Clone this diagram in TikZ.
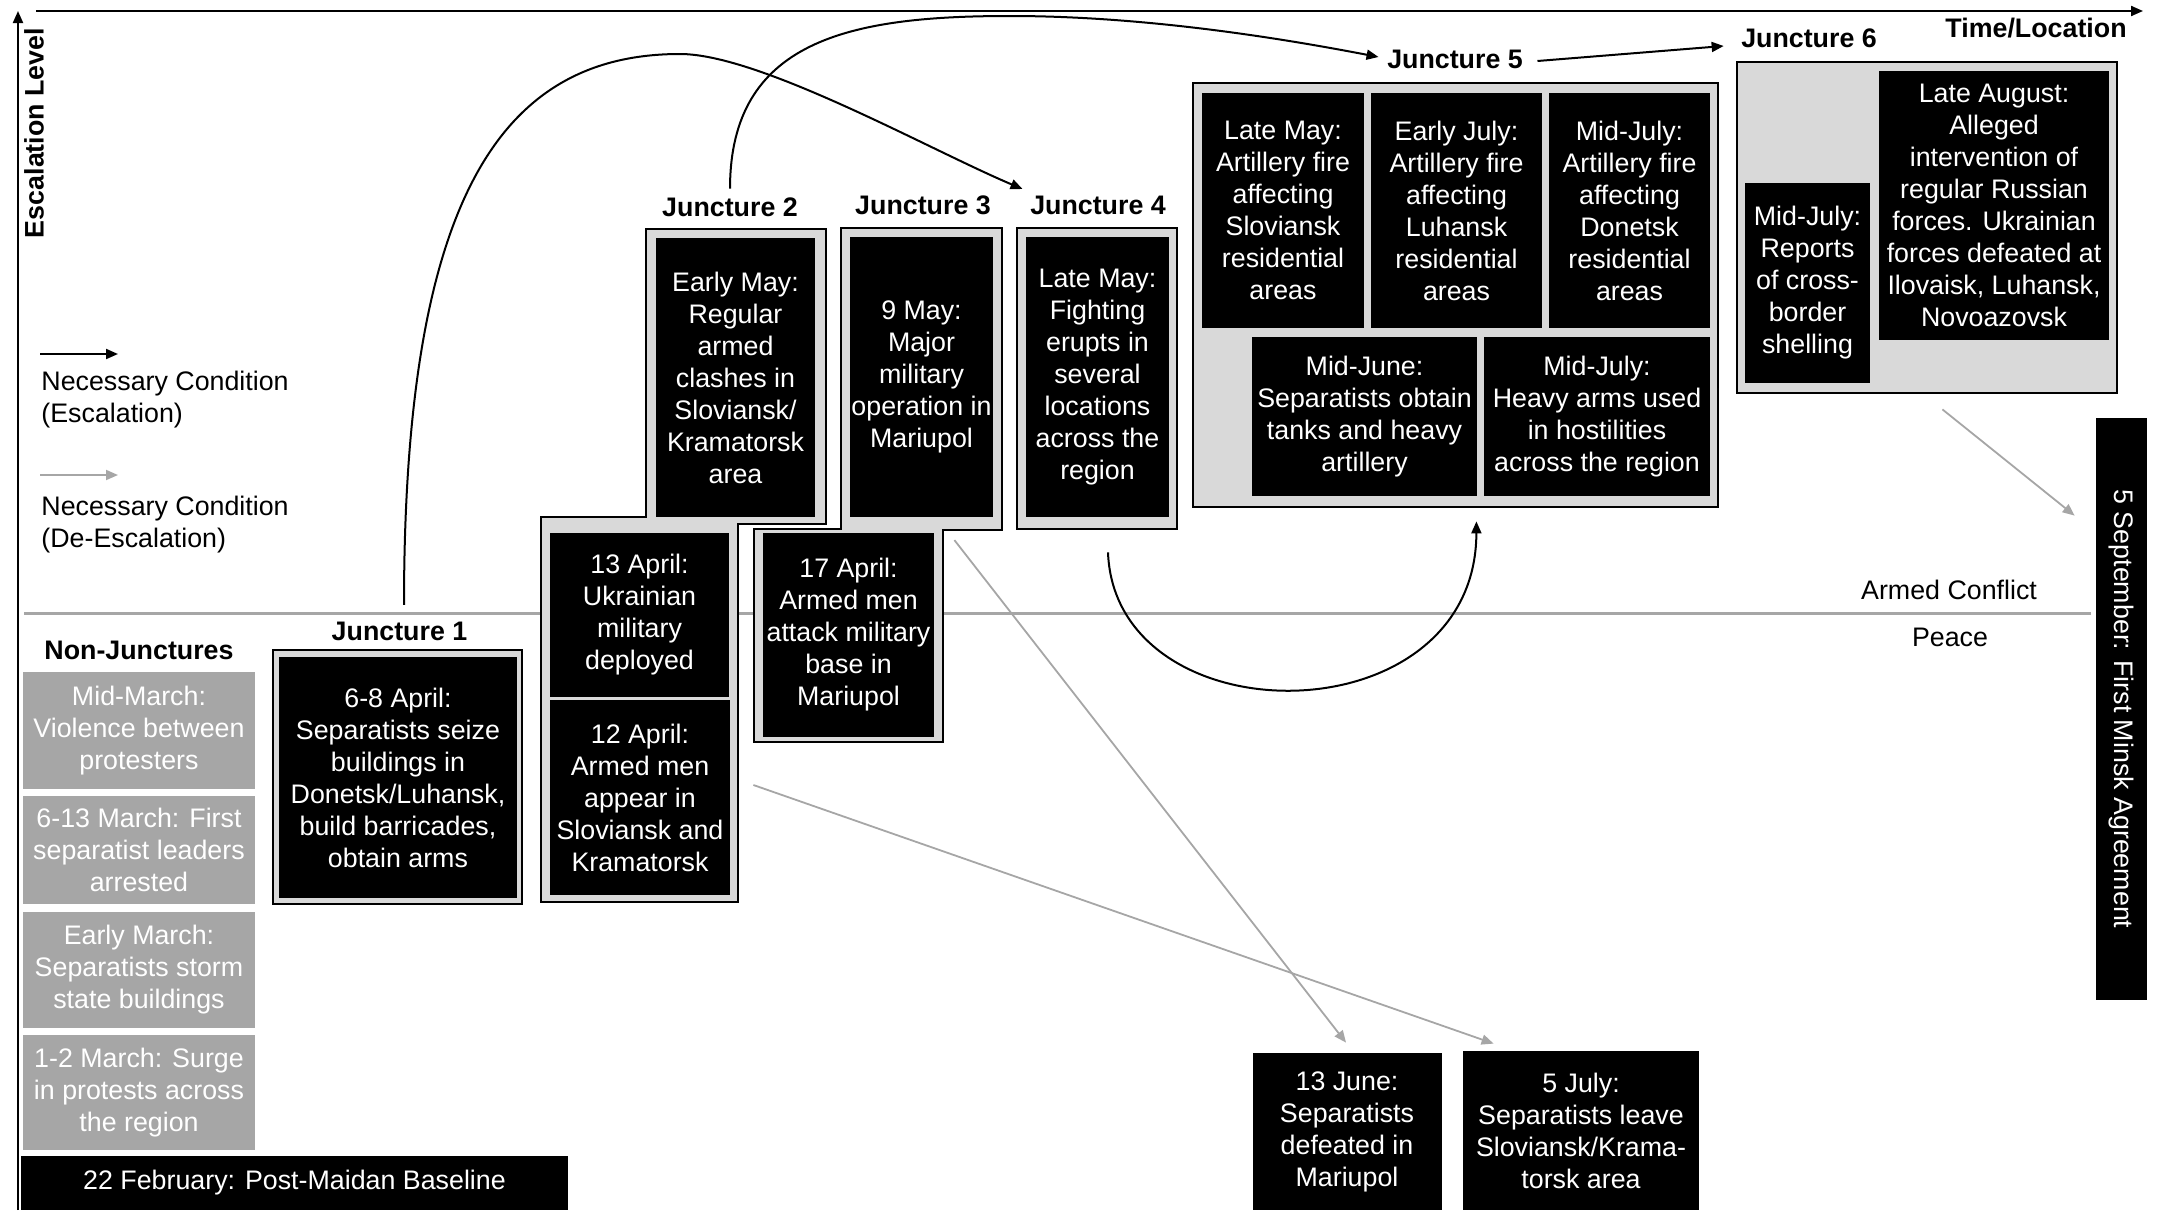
\documentclass[tikz,border=0pt]{standalone}
\usepackage{fontspec}
\setmainfont{Liberation Sans}
\usepackage{graphicx}
\usepackage{tikz}
\usetikzlibrary{arrows.meta}
\definecolor{framegray}{HTML}{D9D9D9}
\definecolor{midgray}{HTML}{A6A6A6}

\begin{document}
\begin{tikzpicture}[x=0.5pt, y=-0.5pt,
    every node/.style={font=\fontsize{13.4}{16}\selectfont, inner sep=0pt, align=center},
    evt/.style={rectangle, fill=black, text=white},
    nonj/.style={rectangle, fill=midgray, text=white, minimum width=116pt},
    frm/.style={fill=framegray, draw=black, line width=1pt},
    jlab/.style={font=\fontsize{13.4}{16}\selectfont\bfseries},
    esc/.style={-{Triangle[length=6pt,width=5pt]}, line width=1pt},
    desc/.style={-{Triangle[length=6pt,width=5pt]}, line width=0.9pt, draw=midgray, fill=midgray}]
    \useasboundingbox (0,0) rectangle (2161,1210);

    % axes
    \coordinate (yb) at (18,1210);
    \coordinate (yt) at (18,11);
    \coordinate (xl) at (36,11);
    \coordinate (xr) at (2143,11);
    \draw[esc] (yb) -- (yt);
    \draw[esc] (xl) -- (xr);
    \node[jlab, rotate=90] at (34,133) (ylab) {Escalation Level};
    \node[jlab] at (2036,28) (xlab) {Time/Location};

    \coordinate (pl) at (24,613);
    \coordinate (pr) at (2091,613);
    \draw[midgray, line width=1.5pt] (pl) -- (pr);
    \node at (1949,590) (ac) {Armed Conflict};
    \node at (1950,637) (pc) {Peace};

    % legend
    \coordinate (lga) at (40,354);
    \coordinate (lgb) at (118,354);
    \coordinate (lgc) at (40,475);
    \coordinate (lgd) at (118,475);
    \draw[esc] (lga) -- (lgb);
    \draw[desc] (lgc) -- (lgd);
    \node[anchor=west, align=left] at (41,399.5) (leg1) {Necessary Condition\\(Escalation)};
    \node[anchor=west, align=left] at (41,524.5) (leg2) {Necessary Condition\\(De-Escalation)};

    % frames
    \draw[frm] (273,650) rectangle (522,904);
    \draw[frm] (541,517) -- (646,517) -- (646,229) -- (826,229) -- (826,524) -- (738,524) -- (738,902) -- (541,902) -- cycle;
    \draw[frm] (754,529) -- (841,529) -- (841,228) -- (1002,228) -- (1002,530) -- (943,530) -- (943,742) -- (754,742) -- cycle;
    \draw[frm] (1017,228) rectangle (1177,529);
    \draw[frm] (1193,83) rectangle (1718,507);
    \draw[frm] (1737,62) rectangle (2117,393);

    % labels
    \node[jlab] at (139,650) (nlab) {Non-Junctures};
    \node[jlab] at (399.5,631) (jl1) {Juncture 1};
    \node[jlab] at (730,207) (jl2) {Juncture 2};
    \node[jlab] at (923,205) (jl3) {Juncture 3};
    \node[jlab] at (1098,205) (jl4) {Juncture 4};
    \node[jlab] at (1455,59) (jl5) {Juncture 5};
    \node[jlab] at (1809,38.6) (jl6) {Juncture 6};

    % non-junctures
    \node[nonj, minimum height=58.5pt] at (139,730.5) (nj1) {Mid-March:\\Violence between\\protesters};
    \node[nonj, minimum height=54pt] at (139,850) (nj2) {6-13 March: First\\separatist leaders\\arrested};
    \node[nonj, minimum height=58pt] at (139,970) (nj3) {Early March:\\Separatists storm\\state buildings};
    \node[nonj, minimum height=57.5pt] at (139,1092.5) (nj4) {1-2 March: Surge\\in protests across\\the region};
    \node[evt, minimum width=273.5pt, minimum height=27pt] at (294.5,1183) (base) {22 February: Post-Maidan Baseline};

    % events
    \node[evt, minimum width=119pt, minimum height=120.5pt] at (398,777.5) (e1) {6-8 April:\\Separatists seize\\buildings in\\Donetsk/Luhansk,\\build barricades,\\obtain arms};
    \node[evt, minimum width=79.5pt, minimum height=139.5pt] at (735.5,377.5) (e2a) {Early May:\\Regular\\armed\\clashes in\\Sloviansk/\\Kramatorsk\\area};
    \node[evt, minimum width=89.5pt, minimum height=82pt] at (639.5,615) (e2b) {13 April:\\Ukrainian\\military\\deployed};
    \node[evt, minimum width=90pt, minimum height=97.5pt] at (640,797.5) (e2c) {12 April:\\Armed men\\appear in\\Sloviansk and\\Kramatorsk};
    \node[evt, minimum width=71.5pt, minimum height=140pt] at (921.5,377) (e3a) {9 May:\\Major\\military\\operation in\\Mariupol};
    \node[evt, minimum width=85.5pt, minimum height=102pt] at (848.5,635) (e3b) {17 April:\\Armed men\\attack military\\base in\\Mariupol};
    \node[evt, minimum width=71.5pt, minimum height=140pt] at (1097.5,377) (e4) {Late May:\\Fighting\\erupts in\\several\\locations\\across the\\region};
    \node[evt, minimum width=81pt, minimum height=117.5pt] at (1283,210.5) (e5a) {Late May:\\Artillery fire\\affecting\\Sloviansk\\residential\\areas};
    \node[evt, minimum width=85.5pt, minimum height=117.5pt] at (1456.5,210.5) (e5b) {Early July:\\Artillery fire\\affecting\\Luhansk\\residential\\areas};
    \node[evt, minimum width=80.5pt, minimum height=117.5pt] at (1629.5,210.5) (e5c) {Mid-July:\\Artillery fire\\affecting\\Donetsk\\residential\\areas};
    \node[evt, minimum width=112.5pt, minimum height=79.5pt] at (1364.5,416.5) (e5d) {Mid-June:\\Separatists obtain\\tanks and heavy\\artillery};
    \node[evt, minimum width=113pt, minimum height=79.5pt] at (1597,416.5) (e5e) {Mid-July:\\Heavy arms used\\in hostilities\\across the region};
    \node[evt, minimum width=115pt, minimum height=134.5pt] at (1994,205.5) (e6a) {Late August:\\Alleged\\intervention of\\regular Russian\\forces. Ukrainian\\forces defeated at\\Ilovaisk, Luhansk,\\Novoazovsk};
    \node[evt, minimum width=62.5pt, minimum height=100pt] at (1807.5,283) (e6b) {Mid-July:\\Reports\\of cross-\\border\\shelling};
    \node[evt, minimum width=94.5pt, minimum height=78.5pt] at (1347,1131.5) (e7) {13 June:\\Separatists\\defeated in\\Mariupol};
    \node[evt, minimum width=118pt, minimum height=79.5pt] at (1581,1130.5) (e8) {5 July:\\Separatists leave\\Sloviansk/Krama-\\torsk area};
    \node[evt, minimum width=25.5pt, minimum height=291pt] at (2121.5,709) (minsk) {\rotatebox{-90}{5 September: First Minsk Agreement}};

    % escalation
    \draw[esc] ([xshift=2.25pt,yshift=8.2pt]jl1.north) .. controls (404,200) and (500,54) .. (680,54) .. controls (760,54) and (930,150) .. ([xshift=-3.65pt,yshift=8pt]jl4.west);
    \draw[esc] ([yshift=4.2pt]jl2.north) .. controls (730,40) and (850,16) .. (1010,16) .. controls (1150,16) and (1290,40) .. ([xshift=-4.15pt,yshift=1pt]jl5.west);
    \draw[esc] ([xshift=7.15pt,yshift=-1pt]jl5.east) -- ([xshift=-8.6pt,yshift=-3.7pt]jl6.west);
    \draw[esc] ([xshift=5.25pt,yshift=-17.5pt]e4.south) .. controls (1115,740) and (1476,740) .. ([xshift=-0.5pt,yshift=-12.5pt]e5d.south east);

    % de-escalation
    \draw[desc] ([xshift=11.5pt,yshift=6.25pt]e2c.east) -- ([xshift=15.5pt,yshift=3.5pt]e8.north west);
    \draw[desc] ([xshift=10pt,yshift=-3.75pt]e3b.north east) -- ([xshift=-0.5pt,yshift=5pt]e7.north);
    \draw[desc] ([xshift=36pt,yshift=-13pt]e6b.south east) -- ([xshift=-10.5pt,yshift=-49pt]minsk.north west);
\end{tikzpicture}
\end{document}
